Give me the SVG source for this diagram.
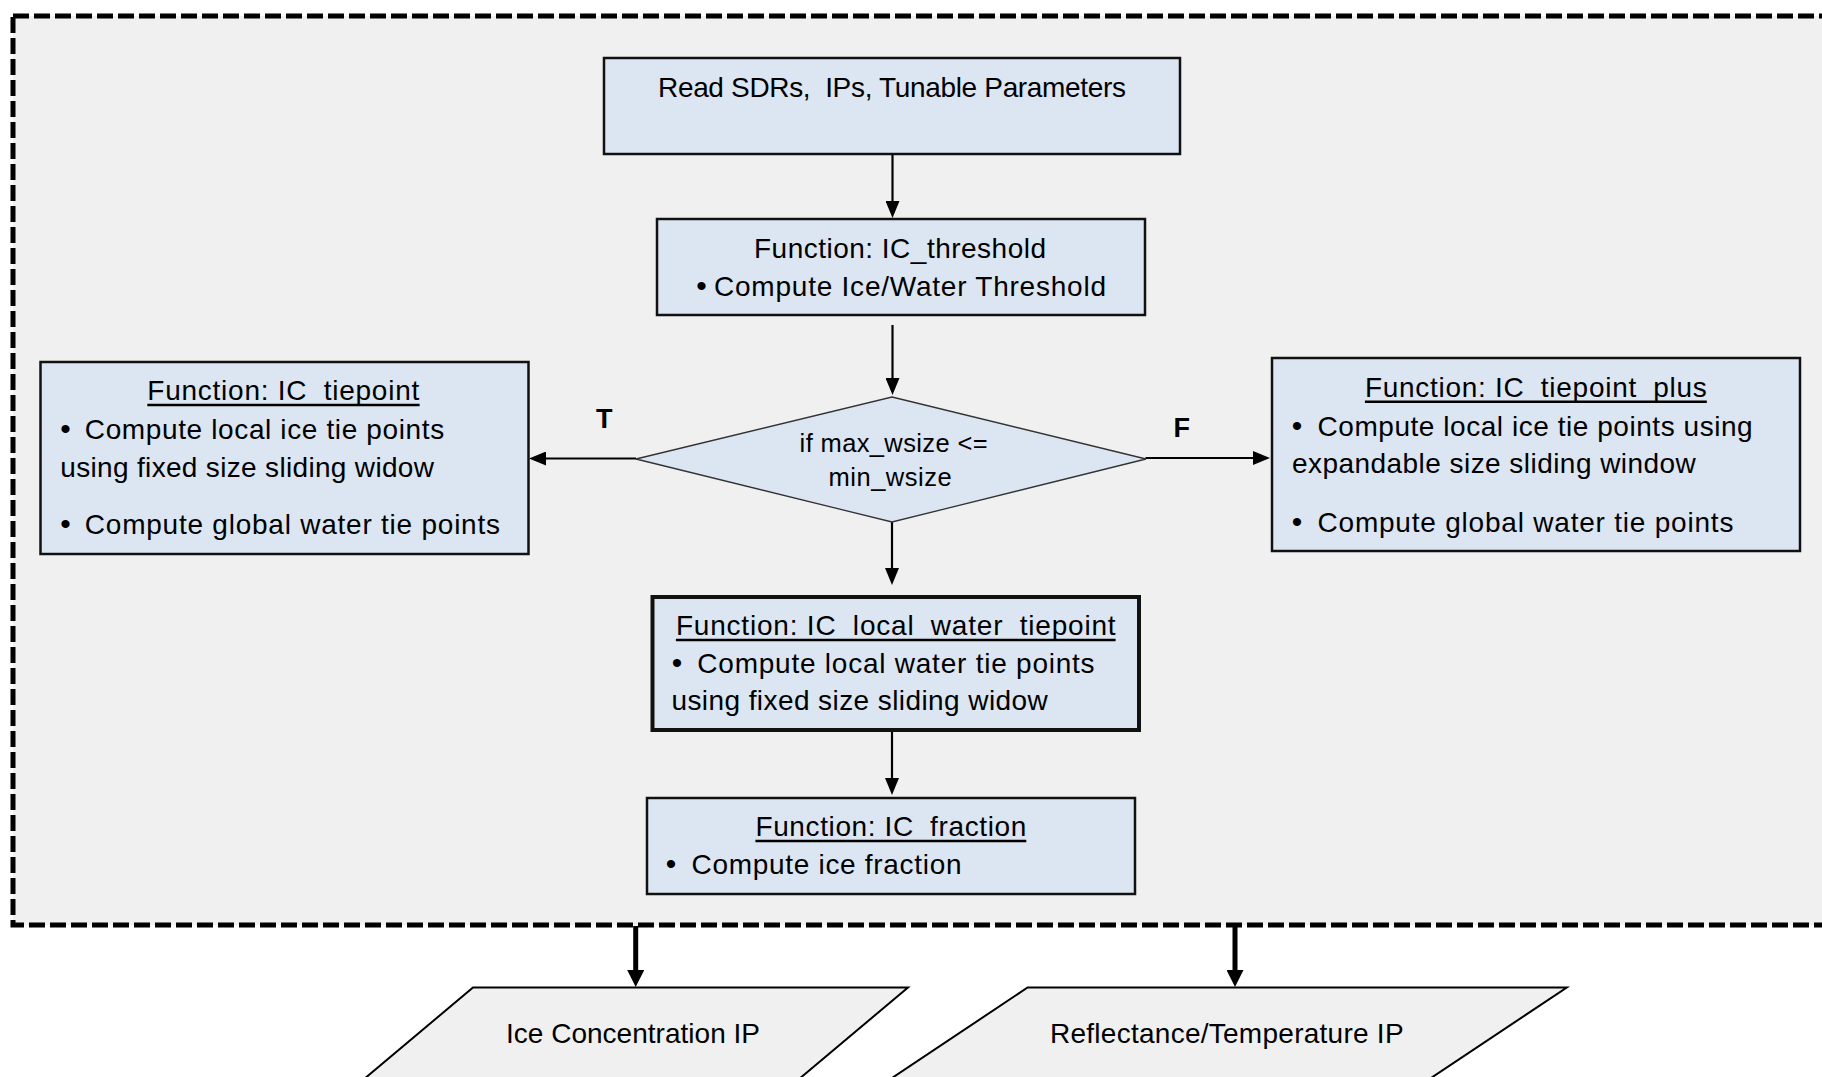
<svg xmlns="http://www.w3.org/2000/svg" width="1822" height="1077" viewBox="0 0 1822 1077">
  <defs>
    <style>
      .frame { fill: #f0f0f0; stroke: #000; stroke-width: 5; stroke-dasharray: 16 5; }
      .box { fill: #dce6f2; stroke: #111; stroke-width: 2.5; }
      .boxb { fill: #dce6f2; stroke: #111; stroke-width: 4; }
      .dia { fill: #dce6f2; stroke: #333; stroke-width: 1.3; }
      .para { fill: #f0f0f0; stroke: #000; stroke-width: 2; }
      .t { font-family: "Liberation Sans", Arial, sans-serif; font-size: 28px; fill: #000; }
      .ts { font-family: "Liberation Sans", Arial, sans-serif; font-size: 25.5px; fill: #000; }
      .ul { stroke: #000; stroke-width: 2.4; }
      .bul { font-family: "Liberation Sans", Arial, sans-serif; font-size: 30px; fill: #000; text-anchor: middle; }
      .lbl { font-family: "Liberation Sans", Arial, sans-serif; font-size: 27px; font-weight: bold; fill: #000; }
      .c { fill: none; stroke: #000; stroke-width: 2.2; }
      .ck { fill: none; stroke: #000; stroke-width: 5; }
    </style>
    <marker id="ah" viewBox="0 0 17 14" refX="7" refY="7" markerWidth="17" markerHeight="14" markerUnits="userSpaceOnUse" orient="auto">
      <path d="M0,0 L17,7 L0,14 Z" fill="#000"/>
    </marker>
    <marker id="ahk" viewBox="0 0 17 17" refX="7" refY="8.5" markerWidth="17" markerHeight="17" markerUnits="userSpaceOnUse" orient="auto">
      <path d="M0,0 L17,8.5 L0,17 Z" fill="#000"/>
    </marker>
  </defs>

  <rect x="0" y="0" width="1822" height="1077" fill="#fff"/>

  <g id="frame">
    <rect class="frame" x="13" y="16" width="1840" height="909"/>
  </g>

  <g id="connectors">
    <line class="c" x1="892.5" y1="154" x2="892.5" y2="208" marker-end="url(#ah)"/>
    <line class="c" x1="892.5" y1="325" x2="892.5" y2="385" marker-end="url(#ah)"/>
    <line class="c" x1="636" y1="458.5" x2="539" y2="458.5" marker-end="url(#ah)"/>
    <line class="c" x1="1145.5" y1="458" x2="1260" y2="458" marker-end="url(#ah)"/>
    <line class="c" x1="892" y1="522" x2="892" y2="575" marker-end="url(#ah)"/>
    <line class="c" x1="892" y1="731.5" x2="892" y2="785" marker-end="url(#ah)"/>
    <line class="ck" x1="635.7" y1="926" x2="635.7" y2="977" marker-end="url(#ahk)"/>
    <line class="ck" x1="1235" y1="926" x2="1235" y2="977" marker-end="url(#ahk)"/>
  </g>

  <g id="read">
    <rect class="box" x="604" y="58" width="576" height="96"/>
    <text class="t" x="658" y="97" textLength="468">Read SDRs,&#160; IPs, Tunable Parameters</text>
  </g>

  <g id="threshold">
    <rect class="box" x="657" y="219" width="488" height="96"/>
    <text class="t" x="754" y="258" textLength="292">Function: IC_threshold</text>
    <text class="bul" x="701.5" y="296">•</text>
    <text class="t" x="714" y="296" textLength="392">Compute Ice/Water Threshold</text>
  </g>

  <g id="decision">
    <polygon class="dia" points="892,397 1146,459 892,522 636,459"/>
    <text class="ts" x="799.6" y="451.7" textLength="188">if max_wsize &lt;=</text>
    <text class="ts" x="828.6" y="486" textLength="123">min_wsize</text>
  </g>

  <g id="label-t">
    <text class="lbl" x="596" y="428">T</text>
  </g>
  <g id="label-f">
    <text class="lbl" x="1173.5" y="437">F</text>
  </g>

  <g id="tiepoint">
    <rect class="box" x="40.5" y="362" width="488" height="192"/>
    <text class="t" x="147.3" y="400" textLength="272">Function: IC_tiepoint</text>
    <line class="ul" x1="147.3" y1="405" x2="419.6" y2="405"/>
    <text class="bul" x="65.5" y="439.3">•</text>
    <text class="t" x="84.8" y="439.3" textLength="359.4">Compute local ice tie points</text>
    <text class="t" x="60.3" y="476.7" textLength="373.7">using fixed size sliding widow</text>
    <text class="bul" x="65.5" y="534">•</text>
    <text class="t" x="84.8" y="534" textLength="415.2">Compute global water tie points</text>
  </g>

  <g id="tiepoint-plus">
    <rect class="box" x="1272" y="358" width="528" height="193"/>
    <text class="t" x="1364.9" y="396.7" textLength="341.9">Function: IC_tiepoint_plus</text>
    <line class="ul" x1="1364.9" y1="401.7" x2="1706.8" y2="401.7"/>
    <text class="bul" x="1297" y="435.7">•</text>
    <text class="t" x="1317.5" y="435.7" textLength="435.2">Compute local ice tie points using</text>
    <text class="t" x="1292" y="472.7" textLength="403.8">expandable size sliding window</text>
    <text class="bul" x="1297" y="531.7">•</text>
    <text class="t" x="1317.5" y="531.7" textLength="415.9">Compute global water tie points</text>
  </g>

  <g id="local-water">
    <rect class="boxb" x="652.5" y="597" width="486.5" height="133"/>
    <text class="t" x="675.9" y="635" textLength="439.7">Function: IC_local_water_tiepoint</text>
    <line class="ul" x1="675.9" y1="640" x2="1115.6" y2="640"/>
    <text class="bul" x="677" y="672.7">•</text>
    <text class="t" x="697.3" y="672.7" textLength="397.3">Compute local water tie points</text>
    <text class="t" x="671.4" y="710" textLength="376.4">using fixed size sliding widow</text>
  </g>

  <g id="fraction">
    <rect class="box" x="647" y="798" width="488" height="96"/>
    <text class="t" x="755.4" y="836" textLength="270.9">Function: IC_fraction</text>
    <line class="ul" x1="755.4" y1="841" x2="1026.3" y2="841"/>
    <text class="bul" x="671" y="874">•</text>
    <text class="t" x="691.5" y="874" textLength="270">Compute ice fraction</text>
  </g>

  <g id="ice-concentration">
    <polygon class="para" points="473,987.5 908,987.5 786,1090 351,1090"/>
    <text class="t" x="506" y="1043" textLength="254">Ice Concentration IP</text>
  </g>

  <g id="reflectance">
    <polygon class="para" points="1027.6,987.5 1566.8,987.5 1413,1090 874,1090"/>
    <text class="t" x="1050" y="1043" textLength="353.6">Reflectance/Temperature IP</text>
  </g>
</svg>
